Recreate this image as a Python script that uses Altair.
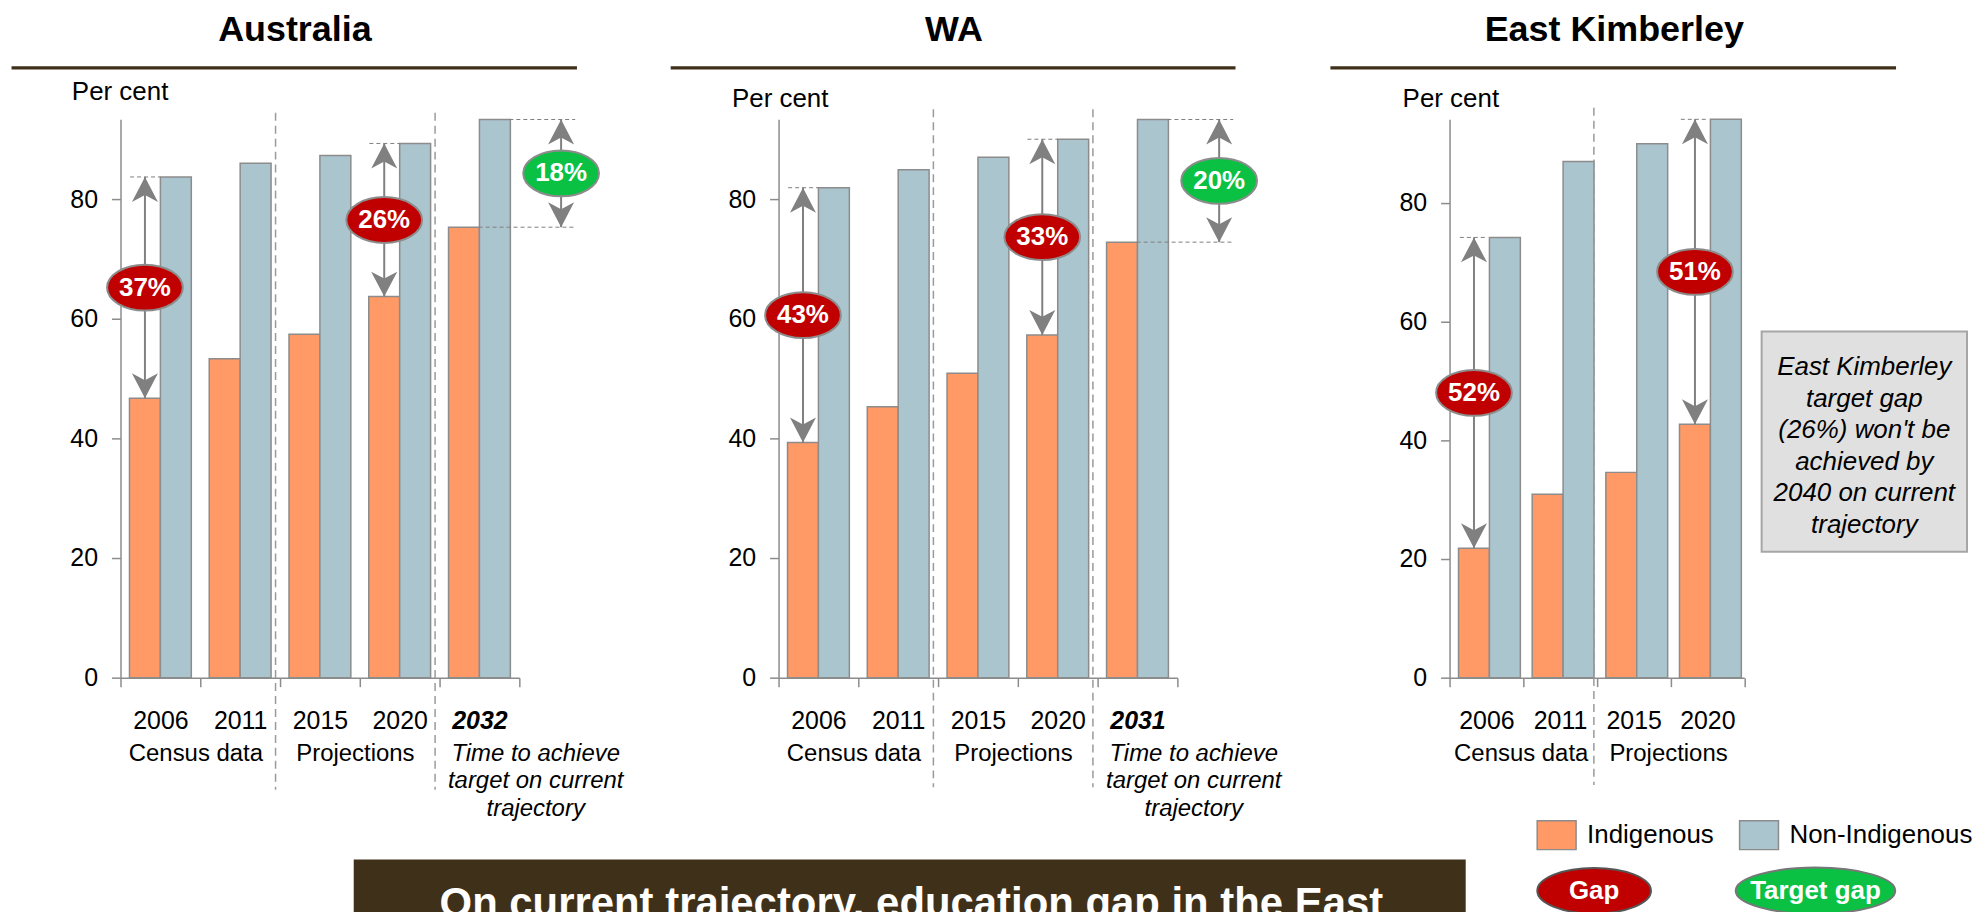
import altair as alt
import pandas as pd

FONT = "Liberation Sans"

# ------------------------------------------------------------------ data
GROUPS = ["Indigenous", "Non-Indigenous"]

aus_years = ["2006", "2011", "2015", "2020", "2032"]
aus_indig = [46.7, 53.3, 57.4, 63.7, 75.3]
aus_non = [83.7, 86.0, 87.3, 89.3, 93.3]
aus_gap_years = ["2006", "2020"]
aus_gap_labels = ["37%", "26%"]
aus_target_label = "18%"

wa_years = ["2006", "2011", "2015", "2020", "2031"]
wa_indig = [39.3, 45.3, 50.9, 57.3, 72.8]
wa_non = [81.9, 84.9, 87.0, 90.0, 93.3]
wa_gap_years = ["2006", "2020"]
wa_gap_labels = ["43%", "33%"]
wa_target_label = "20%"

ek_years = ["2006", "2011", "2015", "2020"]
ek_indig = [21.8, 30.9, 34.6, 42.7]
ek_non = [74.2, 87.0, 90.0, 94.1]
ek_gap_years = ["2006", "2020"]
ek_gap_labels = ["52%", "51%"]

period_labels = ["Census data", "Projections"]
target_period_lines = ["Time to achieve", "target on current", "trajectory"]
ek_note_lines = ["East Kimberley", "target gap", "(26%) won't be",
                 "achieved by", "2040 on current", "trajectory"]
banner_text = "On current trajectory, education gap in the East"
key_labels = ["Gap", "Target gap"]

# ------------------------------------------------------------------ styles
ORANGE = "#FF9966"
BLUE = "#ABC5CF"
BAR_STROKE = "#8C8C8C"
AX = "#8C8C8C"
ARROW = "#808080"
SEP = "#9A9A9A"
RED = "#C00000"
GREEN = "#0BC144"
BROWN = "#3F3119"


def ellipse_path(ratio):
    k = 0.5523
    c = k * ratio
    return (f"M -1 0 C -1 {-c:.4f} {-k:.4f} {-ratio:.4f} 0 {-ratio:.4f} "
            f"C {k:.4f} {-ratio:.4f} 1 {-c:.4f} 1 0 "
            f"C 1 {c:.4f} {k:.4f} {ratio:.4f} 0 {ratio:.4f} "
            f"C {-k:.4f} {ratio:.4f} -1 {c:.4f} -1 0 Z")


UP = "M 0 0 L 0.94 1.8 L 0 1.3 L -0.94 1.8 Z"
DOWN = "M 0 0 L 0.94 -1.8 L 0 -1.3 L -0.94 -1.8 Z"
ELL = ellipse_path(0.605)
RECT = "M -1 -0.74 L 1 -0.74 L 1 0.74 L -1 0.74 Z"
ARROW_SIZE = 773
ELL_SIZE = 5776

LEGEND = alt.Legend(
    orient="none", legendX=1419.9, legendY=697.5, direction="horizontal",
    title=None, symbolType=RECT, symbolSize=1521, symbolStrokeColor=BAR_STROKE,
    symbolStrokeWidth=1.5, symbolOpacity=1, labelFontSize=26, labelOffset=10,
    columnPadding=22, padding=0, labelColor="black", labelLimit=300,
)


def one(text=""):
    return pd.DataFrame({"t": [text]})


def panel(title, years, indig, non, gap_years, gap_labels, target_label,
          ymax, width, plot_w, g, extras=()):
    n = len(years)
    bars_df = pd.DataFrame({
        "cat": years + years,
        "group": [GROUPS[0]] * n + [GROUPS[1]] * n,
        "value": indig + non,
    })
    li = dict(zip(years, indig))
    ln = dict(zip(years, non))
    gap_df = pd.DataFrame({
        "cat": gap_years,
        "group": [GROUPS[0]] * len(gap_years),
        "lo": [li[y] for y in gap_years],
        "hi": [ln[y] for y in gap_years],
        "label": gap_labels,
    })
    gap_df["mid"] = (gap_df["lo"] + gap_df["hi"]) / 2

    xs = alt.Scale(domain=years, paddingInner=0, paddingOuter=0, range=[0, plot_w])
    ys = alt.Scale(domain=[0, ymax], nice=False, zero=True)
    xos = alt.Scale(domain=GROUPS, paddingInner=0, paddingOuter=0.29)
    band = plot_w / n

    if target_label:
        test = f"datum.value == '{years[-1]}'"
        lw = {"condition": {"test": test, "value": "bold"}, "value": "normal"}
        ls = {"condition": {"test": test, "value": "italic"}, "value": "normal"}
    else:
        lw, ls = "normal", "normal"

    xaxis = alt.Axis(
        title=None, labelAngle=0, tickBand="extent", tickSize=9, tickWidth=1.5,
        tickColor=AX, domainColor=AX, domainWidth=1.5, labelPadding=22,
        labelFontSize=25, labelColor="black", labelFontWeight=lw,
        labelFontStyle=ls, grid=False,
    )
    yaxis = alt.Axis(
        values=[0, 20, 40, 60, 80], title="Per cent", titleAngle=0,
        titleAlign="left", titleBaseline="alphabetic", titleX=g["pc_x"],
        titleY=g["pc_y"], titleFontSize=26, titleFontWeight="normal",
        titleColor="black", tickSize=9, tickWidth=1.5, tickColor=AX,
        domainColor=AX, domainWidth=1.5, labelPadding=14, labelFontSize=25,
        labelColor="black", grid=False,
    )

    def X(**kw):
        return alt.X("cat:N", scale=xs, axis=xaxis, **kw)

    def Y(field):
        return alt.Y(field, scale=ys, axis=yaxis)

    bars = alt.Chart(bars_df).mark_bar(stroke=BAR_STROKE, strokeWidth=1.5).encode(
        x=X(),
        xOffset=alt.XOffset("group:N", scale=xos),
        y=Y("value:Q"),
        fill=alt.Fill("group:N", scale=alt.Scale(domain=GROUPS, range=[ORANGE, BLUE]),
                      legend=LEGEND),
    )

    sep_cats = [years[2]] + ([years[4]] if n > 4 else [])
    seps = alt.Chart(pd.DataFrame({"cat": sep_cats})).mark_rule(
        color=SEP, strokeWidth=1.5, strokeDash=[8, 5], xOffset=g["sep_dx"]
    ).encode(
        x=X(bandPosition=0),
        y=alt.value(g["sep_top"]), y2=alt.value(g["sep_bot"]),
    )

    pers = alt.Chart(pd.DataFrame({"cat": [years[1], years[3]], "label": period_labels})).mark_text(
        fontSize=24, align="center", baseline="alphabetic", color="black",
        xOffset=g["per_dx"],
    ).encode(
        x=X(bandPosition=0),
        y=alt.value(643.4), text="label:N",
    )

    gx = dict(x=X(), xOffset=alt.XOffset("group:N", scale=xos))
    gbase = alt.Chart(gap_df)
    gap_dash = gbase.mark_rule(color=ARROW, strokeWidth=1, strokeDash=[4, 3]).encode(
        x=X(bandPosition=g["dash_b0"]),
        x2=alt.X2("cat:N", bandPosition=0.5),
        y=Y("hi:Q"),
    )
    gap_line = gbase.mark_rule(color=ARROW, strokeWidth=2).encode(
        **gx, y=Y("lo:Q"), y2="hi:Q")
    gap_up = gbase.mark_point(shape=UP, filled=True, fill=ARROW, size=ARROW_SIZE,
                              opacity=1, strokeWidth=0).encode(**gx, y=Y("hi:Q"))
    gap_dn = gbase.mark_point(shape=DOWN, filled=True, fill=ARROW, size=ARROW_SIZE,
                              opacity=1, strokeWidth=0).encode(**gx, y=Y("lo:Q"))
    gap_ell = gbase.mark_point(shape=ELL, filled=True, fill=RED, stroke=AX,
                               strokeWidth=2, size=ELL_SIZE, opacity=1).encode(
        **gx, y=Y("mid:Q"))
    gap_txt = gbase.mark_text(color="white", fontSize=26, fontWeight="bold",
                              align="center", baseline="middle").encode(
        **gx, y=Y("mid:Q"), text="label:N")

    layers = [bars, seps, pers, gap_dash, gap_line, gap_up, gap_dn, gap_ell, gap_txt]

    if target_label:
        t_df = pd.DataFrame({"cat": [years[-1]], "lo": [indig[-1]], "hi": [non[-1]],
                             "label": [target_label],
                             "lines": ["\n".join(target_period_lines)]})
        t_df["mid"] = (t_df["lo"] + t_df["hi"]) / 2
        tb = alt.Chart(t_df)
        ext = 0.7 * band
        t_dash_hi = tb.mark_rule(color=ARROW, strokeWidth=1, strokeDash=[4, 3],
                                 x2Offset=ext).encode(
            x=X(bandPosition=0.875), x2=alt.X2("cat:N", bandPosition=1), y=Y("hi:Q"))
        t_dash_lo = tb.mark_rule(color=ARROW, strokeWidth=1, strokeDash=[4, 3],
                                 x2Offset=ext).encode(
            x=X(bandPosition=0.49), x2=alt.X2("cat:N", bandPosition=1), y=Y("lo:Q"))
        dx = 81.9
        t_line = tb.mark_rule(color=ARROW, strokeWidth=2, xOffset=dx).encode(
            x=X(), y=Y("lo:Q"), y2="hi:Q")
        t_up = tb.mark_point(shape=UP, filled=True, fill=ARROW, size=ARROW_SIZE, opacity=1,
                             strokeWidth=0, xOffset=dx).encode(x=X(), y=Y("hi:Q"))
        t_dn = tb.mark_point(shape=DOWN, filled=True, fill=ARROW, size=ARROW_SIZE, opacity=1,
                             strokeWidth=0, xOffset=dx).encode(x=X(), y=Y("lo:Q"))
        t_ell = tb.mark_point(shape=ELL, filled=True, fill=GREEN, stroke=AX, strokeWidth=2,
                              size=ELL_SIZE, opacity=1, xOffset=dx).encode(x=X(), y=Y("mid:Q"))
        t_txt = tb.mark_text(color="white", fontSize=26, fontWeight="bold", align="center",
                             baseline="middle", xOffset=dx).encode(
            x=X(), y=Y("mid:Q"), text="label:N")
        t_per = tb.mark_text(fontSize=24, fontStyle="italic", align="center",
                             baseline="alphabetic", lineBreak="\n", lineHeight=27.5,
                             color="black", xOffset=56.4).encode(
            x=X(), y=alt.value(643.4), text="lines:N")
        layers += [t_dash_hi, t_dash_lo, t_line, t_up, t_dn, t_ell, t_txt, t_per]

    ttl = alt.Chart(one(title)).mark_text(
        fontSize=36, fontWeight="bold", align="center", baseline="alphabetic",
        color="black").encode(x=alt.value(g["title_x"]), y=alt.value(-79), text="t:N")
    uline = alt.Chart(one()).mark_rule(color=BROWN, strokeWidth=3.3).encode(
        x=alt.value(g["ul_x1"]), x2=alt.value(g["ul_x2"]), y=alt.value(-51.6))
    layers += [ttl, uline] + list(extras)

    return alt.layer(*layers).properties(width=width, height=560)


# ------------------------------------------------------------------ extras
banner_box = alt.Chart(one()).mark_rect(fill=BROWN).encode(
    x=alt.value(-426.1), x2=alt.value(689.2), y=alt.value(742.4), y2=alt.value(800))
banner_txt = alt.Chart(one(banner_text)).mark_text(
    fontSize=42, fontWeight="bold", color="white", align="center",
    baseline="alphabetic").encode(x=alt.value(133.2), y=alt.value(799.7), text="t:N")

note_box = alt.Chart(one()).mark_rect(fill="#E0E0E0", stroke="#A6A6A6", strokeWidth=2).encode(
    x=alt.value(313), x2=alt.value(519), y=alt.value(212.7), y2=alt.value(433.7))
note_txt = alt.Chart(one("\n".join(ek_note_lines))).mark_text(
    fontSize=26, fontStyle="italic", align="center", baseline="alphabetic",
    lineBreak="\n", lineHeight=31.6, color="black").encode(
    x=alt.value(416), y=alt.value(256.7), text="t:N")

key_gap = alt.Chart(one(key_labels[0])).mark_point(
    shape=ellipse_path(0.40), filled=True, fill=RED, stroke="#555555", strokeWidth=2,
    size=114 * 114, opacity=1).encode(x=alt.value(145), y=alt.value(773.7))
key_gap_t = alt.Chart(one(key_labels[0])).mark_text(
    fontSize=26, fontWeight="bold", color="white", align="center", baseline="middle").encode(
    x=alt.value(145), y=alt.value(773.7), text="t:N")
key_tgt = alt.Chart(one(key_labels[1])).mark_point(
    shape=ellipse_path(0.29), filled=True, fill=GREEN, stroke="#777777", strokeWidth=2,
    size=160 * 160, opacity=1).encode(x=alt.value(367), y=alt.value(773.7))
key_tgt_t = alt.Chart(one(key_labels[1])).mark_text(
    fontSize=26, fontWeight="bold", color="white", align="center", baseline="middle").encode(
    x=alt.value(367), y=alt.value(773.7), text="t:N")

# ------------------------------------------------------------------ panels
aus = panel("Australia", aus_years, aus_indig, aus_non, aus_gap_years, aus_gap_labels,
            aus_target_label, 93.33, 400, 400,
            dict(pc_x=-49.3, pc_y=-19.8, sep_dx=-4.5, sep_top=-6.6, sep_bot=672.4,
                 per_dx=-4.4, dash_b0=0.12, title_x=174.9, ul_x1=-109.3, ul_x2=457.8))
wa = panel("WA", wa_years, wa_indig, wa_non, wa_gap_years, wa_gap_labels,
           wa_target_label, 93.33, 412.2, 400,
           dict(pc_x=-47.2, pc_y=-13.3, sep_dx=-4.7, sep_top=-10, sep_bot=670,
                per_dx=-4.4, dash_b0=0.12, title_x=175.9, ul_x1=-108.2, ul_x2=458.3),
           extras=[banner_box, banner_txt])
ek = panel("East Kimberley", ek_years, ek_indig, ek_non, ek_gap_years, ek_gap_labels,
           None, 94.1, 295.5, 295.5,
           dict(pc_x=-47.6, pc_y=-13.3, sep_dx=-3, sep_top=-11.6, sep_bot=667.7,
                per_dx=-2, dash_b0=0.14, title_x=165.2, ul_x1=-119.5, ul_x2=447.8),
           extras=[note_box, note_txt, key_gap, key_gap_t, key_tgt, key_tgt_t])

chart = alt.hconcat(aus, wa, ek, spacing=260, bounds="flush").properties(
    padding={"left": 1.85, "top": 2.3, "right": 0, "bottom": 0}
).configure(font=FONT).configure_view(strokeWidth=0)

chart.save("out.html", embed_options={"renderer": "svg", "actions": False})
